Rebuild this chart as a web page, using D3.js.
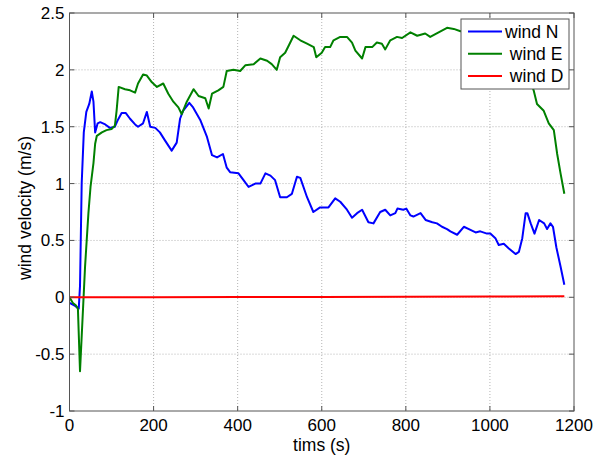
<!DOCTYPE html>
<html>
<head>
<meta charset="utf-8">
<script src="https://cdn.jsdelivr.net/npm/d3@7"></script>
<style>
  body { margin: 0; background: #fff; }
  svg { display: block; font-family: "Liberation Sans", Arial, sans-serif; }
  .grid line { stroke: #b4b4b4; stroke-width: 1; stroke-dasharray: 1,2; }
  .tick-mark { stroke: #555; stroke-width: 1; }
  .frame { fill: none; stroke: #555; stroke-width: 1; }
  .series { fill: none; stroke-width: 2; stroke-linejoin: round; }
  .tick-label { font-size: 17px; fill: #000; }
  .axis-label { font-size: 17.5px; fill: #000; }
  .legend text { font-size: 17.5px; white-space: pre; }
</style>
</head>
<body>
<div id="chart"></div>
<script>
var xTicks = [0, 200, 400, 600, 800, 1000, 1200];
var yTicks = [-1, -0.5, 0, 0.5, 1, 1.5, 2, 2.5];
var seriesNames = ["wind N", " wind E", " wind D"];
var seriesColors = ["#0000ff", "#008000", "#ff0000"];

// [time (s), velocity (m/s)]
var windN = [
    [0, -0.05], [11, -0.07], [22, -0.1], [25, 0.1], [29, 1.0], [34, 1.45], [40, 1.63],
    [47, 1.7], [53, 1.81], [57, 1.72], [61, 1.45], [67, 1.53], [73, 1.54], [85, 1.52],
    [96, 1.49], [108, 1.5], [115, 1.56], [124, 1.62], [134, 1.62], [144, 1.57], [156, 1.52],
    [163, 1.5], [175, 1.53], [184, 1.63], [192, 1.5], [204, 1.49], [215, 1.45], [227, 1.38],
    [243, 1.29], [255, 1.36], [263, 1.57], [270, 1.64], [285, 1.71], [294, 1.67], [311, 1.56],
    [327, 1.41], [339, 1.25], [351, 1.23], [365, 1.26], [374, 1.14], [382, 1.1], [402, 1.09],
    [414, 1.03], [426, 0.97], [442, 1.0], [454, 1.0], [466, 1.09], [478, 1.07], [489, 1.03],
    [501, 0.88], [517, 0.88], [529, 0.91], [541, 1.06], [549, 1.05], [565, 0.88], [580, 0.75],
    [596, 0.79], [616, 0.79], [632, 0.87], [644, 0.84], [660, 0.77], [672, 0.70], [684, 0.74],
    [696, 0.77], [711, 0.66], [723, 0.65], [739, 0.75], [751, 0.77], [763, 0.72], [775, 0.74],
    [780, 0.78], [794, 0.77], [801, 0.78], [811, 0.72], [818, 0.71], [835, 0.74], [847, 0.68],
    [863, 0.66], [874, 0.65], [886, 0.62], [898, 0.60], [906, 0.58], [922, 0.55], [938, 0.62],
    [950, 0.60], [966, 0.57], [977, 0.58], [993, 0.56], [1001, 0.56], [1013, 0.52], [1021, 0.46],
    [1033, 0.47], [1045, 0.43], [1061, 0.38], [1069, 0.40], [1077, 0.52], [1085, 0.74],
    [1089, 0.74], [1097, 0.65], [1106, 0.56], [1117, 0.68], [1129, 0.65], [1136, 0.60],
    [1144, 0.65], [1150, 0.62], [1158, 0.44], [1168, 0.27], [1177, 0.11]
];

var windE = [
    [0, 0.0], [8, -0.05], [15, -0.07], [20, -0.1], [25, -0.65], [37, 0.27], [45, 0.74],
    [50, 0.97], [57, 1.18], [61, 1.35], [65, 1.42], [77, 1.45], [88, 1.47], [100, 1.48],
    [108, 1.51], [112, 1.64], [117, 1.85], [132, 1.83], [144, 1.82], [156, 1.80], [163, 1.88],
    [175, 1.96], [184, 1.95], [196, 1.89], [208, 1.85], [223, 1.88], [235, 1.79], [247, 1.72],
    [259, 1.67], [267, 1.61], [279, 1.72], [295, 1.83], [307, 1.77], [323, 1.75], [331, 1.66],
    [339, 1.79], [354, 1.82], [366, 1.85], [374, 1.99], [390, 2.0], [406, 1.99], [418, 2.04],
    [438, 2.05], [454, 2.10], [470, 2.08], [481, 2.05], [493, 2.0], [501, 2.11], [513, 2.15],
    [521, 2.21], [533, 2.30], [549, 2.26], [565, 2.23], [581, 2.20], [587, 2.11], [600, 2.15],
    [608, 2.2], [620, 2.2], [628, 2.26], [644, 2.29], [660, 2.29], [672, 2.24], [680, 2.17],
    [696, 2.10], [704, 2.2], [720, 2.2], [731, 2.24], [743, 2.23], [751, 2.18], [763, 2.26],
    [779, 2.29], [791, 2.28], [811, 2.33], [827, 2.30], [846, 2.32], [858, 2.29], [878, 2.33],
    [898, 2.37], [914, 2.36], [930, 2.34], [980, 2.35], [1040, 2.28], [1080, 2.1], [1104, 1.82],
    [1112, 1.70], [1128, 1.64], [1140, 1.53], [1152, 1.47], [1160, 1.26], [1168, 1.09],
    [1177, 0.91]
];

var windD = [
    [0, 0.0], [200, 0.0], [400, 0.002], [600, 0.003], [800, 0.005], [1000, 0.007], [1177, 0.01]
];

var width = 612, height = 458;
var margin = {top: 13, right: 38, bottom: 47, left: 69.5};
var plotW = width - margin.left - margin.right;
var plotH = height - margin.top - margin.bottom;

var x = d3.scaleLinear().domain([0, 1200]).range([0, plotW]);
var y = d3.scaleLinear().domain([-1, 2.5]).range([plotH, 0]);

var svg = d3.select("#chart").append("svg")
    .attr("width", width)
    .attr("height", height);
svg.append("rect").attr("width", width).attr("height", height).attr("fill", "#fff");

var g = svg.append("g").attr("transform", "translate(" + margin.left + "," + margin.top + ")");

// dotted grid, not on the frame
var grid = g.append("g").attr("class", "grid");
grid.selectAll("line.v")
    .data(xTicks.filter(function(d) { return d > 0 && d < 1200; }))
    .enter().append("line")
    .attr("x1", x).attr("x2", x)
    .attr("y1", 0).attr("y2", plotH);
grid.selectAll("line.h")
    .data(yTicks.filter(function(d) { return d > -1 && d < 2.5; }))
    .enter().append("line")
    .attr("y1", y).attr("y2", y)
    .attr("x1", 0).attr("x2", plotW);

g.append("clipPath").attr("id", "clip")
    .append("rect").attr("width", plotW).attr("height", plotH);

var line = d3.line()
    .x(function(d) { return x(d[0]); })
    .y(function(d) { return y(d[1]); });

var lines = g.append("g").attr("clip-path", "url(#clip)");
[windN, windE, windD].forEach(function(data, i) {
    lines.append("path")
        .attr("class", "series")
        .attr("stroke", seriesColors[i])
        .attr("d", line(data));
});

// inward tick marks on all four sides
var tickLen = 5;
var ticks = g.append("g");
xTicks.forEach(function(d) {
    ticks.append("line").attr("class", "tick-mark")
        .attr("x1", x(d)).attr("x2", x(d)).attr("y1", plotH).attr("y2", plotH - tickLen);
    ticks.append("line").attr("class", "tick-mark")
        .attr("x1", x(d)).attr("x2", x(d)).attr("y1", 0).attr("y2", tickLen);
});
yTicks.forEach(function(d) {
    ticks.append("line").attr("class", "tick-mark")
        .attr("y1", y(d)).attr("y2", y(d)).attr("x1", 0).attr("x2", tickLen);
    ticks.append("line").attr("class", "tick-mark")
        .attr("y1", y(d)).attr("y2", y(d)).attr("x1", plotW).attr("x2", plotW - tickLen);
});

g.append("rect").attr("class", "frame")
    .attr("width", plotW).attr("height", plotH);

g.selectAll("text.xt")
    .data(xTicks)
    .enter().append("text")
    .attr("class", "tick-label")
    .attr("x", x)
    .attr("y", plotH + 20)
    .attr("text-anchor", "middle")
    .text(function(d) { return d; });

g.selectAll("text.yt")
    .data(yTicks)
    .enter().append("text")
    .attr("class", "tick-label")
    .attr("x", -5)
    .attr("y", y)
    .attr("dy", "0.35em")
    .attr("text-anchor", "end")
    .text(function(d) { return d; });

g.append("text")
    .attr("class", "axis-label")
    .attr("x", plotW / 2)
    .attr("y", plotH + 40)
    .attr("text-anchor", "middle")
    .text("tims (s)");

g.append("text")
    .attr("class", "axis-label")
    .attr("transform", "translate(" + (-39) + "," + (plotH / 2 - 4) + ") rotate(-90)")
    .attr("text-anchor", "middle")
    .text("wind velocity (m/s)");

// legend
var legend = g.append("g").attr("class", "legend")
    .attr("transform", "translate(" + (plotW - 113) + ",6)");
legend.append("rect")
    .attr("width", 108).attr("height", 70)
    .attr("fill", "#fff").attr("stroke", "#555");
var item = legend.selectAll("g.item")
    .data(seriesNames)
    .enter().append("g")
    .attr("transform", function(d, i) { return "translate(0," + (12.5 + i * 22.3) + ")"; });
item.append("line")
    .attr("x1", 7).attr("x2", 41)
    .attr("stroke-width", 2)
    .attr("stroke", function(d, i) { return seriesColors[i]; });
item.append("text")
    .attr("x", 44)
    .attr("dy", "0.35em")
    .text(function(d) { return d; });
</script>
</body>
</html>
